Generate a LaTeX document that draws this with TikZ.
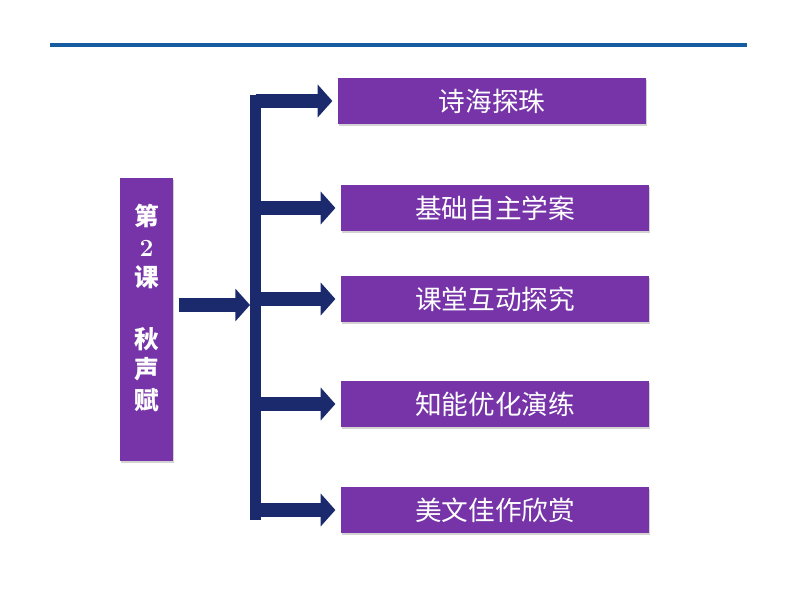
\documentclass[tikz,border=0pt]{standalone}
\usepackage{fontspec}
\newfontfamily\cjk{Noto Sans CJK SC}
\usepackage{tikz}
\usetikzlibrary{arrows.meta,positioning,shadows}
\definecolor{boxpurple}{RGB}{118,52,168}
\definecolor{barnavy}{RGB}{26,42,108}
\definecolor{rulblue}{RGB}{22,92,160}
\tikzstyle{topic}=[fill=boxpurple,text=white,minimum width=231pt,minimum height=34.5pt,inner sep=0pt,
  font=\cjk\fontsize{20}{22}\selectfont,drop shadow={shadow xshift=1pt,shadow yshift=-1.5pt,opacity=0.35}]
\tikzstyle{title}=[fill=boxpurple,text=white,minimum width=39.75pt,minimum height=212pt,inner sep=0pt,
  align=center,font=\cjk\bfseries\fontsize{18.5}{23}\selectfont,drop shadow={shadow xshift=1pt,shadow yshift=-1.5pt,opacity=0.35}]
\tikzstyle{link} = [draw=barnavy,line width=10.5pt,-{Triangle[width=24pt,length=11pt]},shorten >=4pt]

\begin{document}
\begin{tikzpicture}[x=0.75pt,y=-0.75pt]
    \useasboundingbox (0,0) rectangle (800,600);
    \draw[rulblue,line width=2.5pt] (50,45) -- (747,45);
    % left title and the bar
    \node[title] (lesson) at (146.5,319.5) {第\\{\normalfont\bfseries 2}\\课\\[23pt]秋\\声\\赋\\[-4pt]\mbox{}};
    \node[fill=barnavy,minimum width=8.25pt,minimum height=318.75pt,inner sep=0pt] (bar) at (255.5,307.5) {};
    \foreach \pos/\name/\txt in {{(492,101)/poem/诗海探珠}, {(495,208)/basis/基础自主学案}, {(495,299)/inter/课堂互动探究},
        {(495,404)/drill/知能优化演练}, {(495,510)/essay/美文佳作欣赏}}
        \node[topic] (\name) at \pos {\txt};
    \coordinate (join) at (250,305);
    \path[link,shorten >=0pt,shorten <=4pt] (lesson.east |- join) -- (join);
    \foreach \dest in {poem,basis,inter,drill,essay}
        \path[link] (bar.center |- \dest) -- (\dest.west);
\end{tikzpicture}
\end{document}
